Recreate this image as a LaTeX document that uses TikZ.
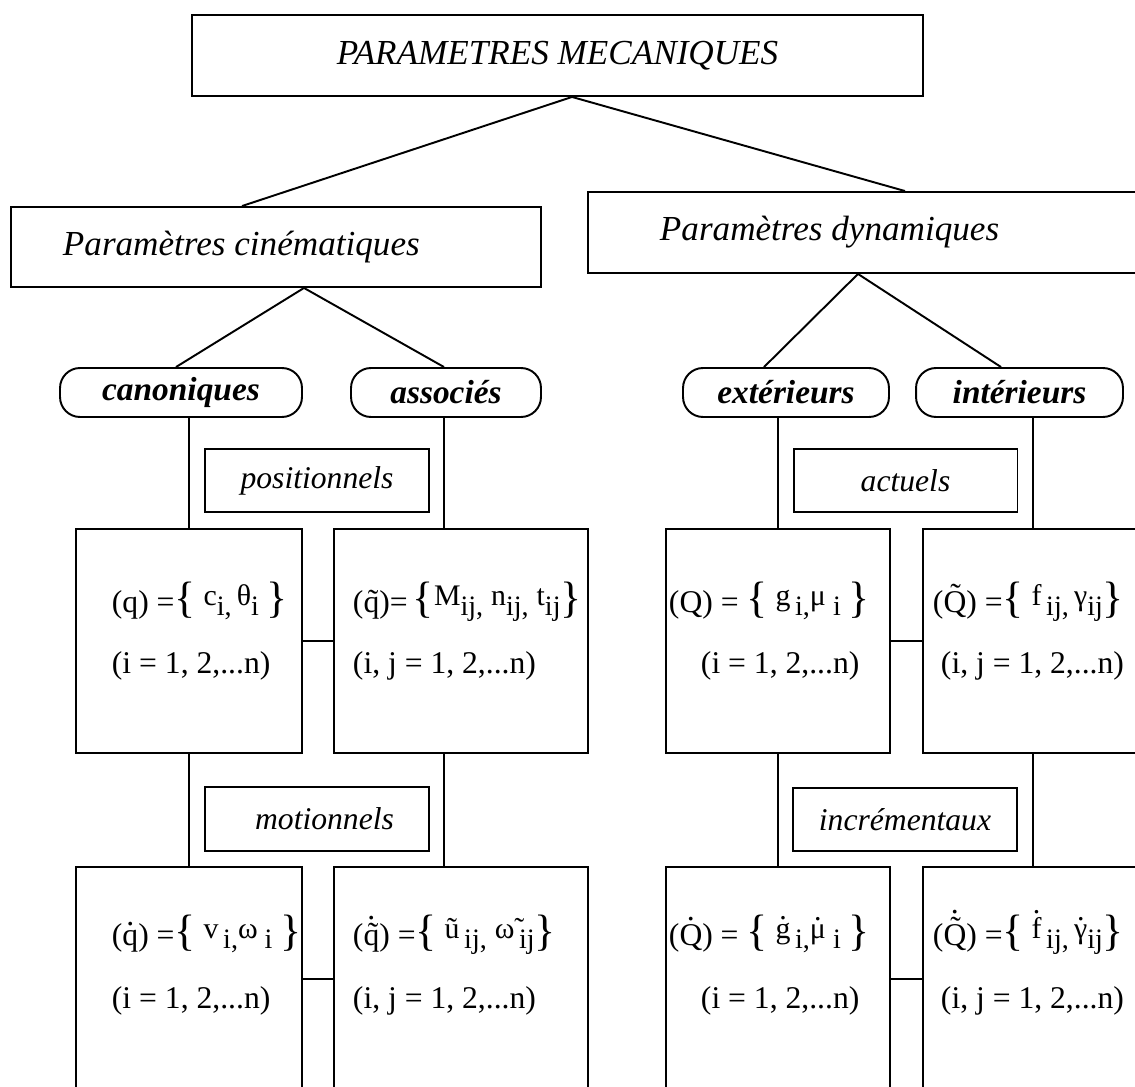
\documentclass[tikz,border=0pt]{standalone}
\usepackage{fontspec}
\setmainfont{Liberation Serif}
\usetikzlibrary{calc}
\newcommand\lbr{{\fontsize{25}{25}\selectfont\{}}
\newcommand\rbr{{\fontsize{25}{25}\selectfont\}}}
\newcommand\hi[1]{\raisebox{0.45ex}{\fontsize{17}{17}\selectfont #1}}
\newcommand\lo[1]{\raisebox{-0.25ex}{\fontsize{16}{16}\selectfont #1}}
\newcommand\ontop[3][2pt]{\leavevmode\vbox{\offinterlineskip\halign{\hfil##\hfil\cr #2\cr\noalign{\kern#1}#3\cr}}}
\begin{document}
\begin{tikzpicture}[x=0.02cm, y=-0.02cm, line width=1.1pt,
  box/.style={draw, rectangle, inner sep=0pt},
  pill/.style={draw, rectangle, rounded corners=0.4cm, inner sep=0pt, minimum height=0.98cm,
    font=\fontsize{19}{19}\selectfont\bfseries\itshape},
  head/.style={inner sep=0pt, font=\fontsize{20}{24}\selectfont\itshape},
  lab/.style={draw, rectangle, inner sep=0pt, minimum width=4.48cm, minimum height=1.27cm,
    font=\fontsize{18}{20}\selectfont\itshape},
  big/.style={draw, rectangle, inner sep=0pt, minimum height=4.48cm},
  frm/.style={anchor=base west, inner sep=0pt, font=\fontsize{18}{20}\selectfont}]
\useasboundingbox (0,0) rectangle (1135,1087);
\clip (0,0) rectangle (1135,1087);
% top level
\node[box, head, minimum width=14.62cm, minimum height=1.62cm] (top) at (557.5,55.5) {PARAMETRES MECANIQUES};
\node[box, minimum width=10.6cm, minimum height=1.6cm] (cin) at (276,247) {};
\node[head, anchor=west] (cint) at (62,247) {Paramètres cinématiques};
\node[box, minimum width=11.24cm, minimum height=1.62cm] (dyn) at (869,232.5) {};
\node[head, anchor=west] (dynt) at (659,232) {Paramètres dynamiques};
% pills
\node[pill, minimum width=4.84cm] (can) at (181,392.5) {canoniques};
\node[pill, minimum width=3.8cm] (ass) at (446,392.5) {associés};
\node[pill, minimum width=4.12cm] (ext) at (786,392.5) {extérieurs};
\node[pill, minimum width=4.14cm] (int) at (1019.5,392.5) {intérieurs};
% label boxes
\node[lab] (pos) at (317,480.5) {positionnels};
\node[lab] (act) at (905.5,480.5) {actuels};
\node[lab] (mot) at (317,819) {\hspace{0.3cm}motionnels};
\node[lab] (inc) at (905,819.5) {incrémentaux};
% main boxes
\node[big, minimum width=4.52cm] (A) at (189,641) {};
\node[big, minimum width=5.08cm] (B) at (461,641) {};
\node[big, minimum width=4.48cm] (C) at (778,641) {};
\node[big, minimum width=5.08cm] (D) at (1050,641) {};
\node[big, minimum width=4.52cm] (A2) at (189,979) {};
\node[big, minimum width=5.08cm] (B2) at (461,979) {};
\node[big, minimum width=4.48cm] (C2) at (778,979) {};
\node[big, minimum width=5.08cm] (D2) at (1050,979) {};
% connectors
\draw ([xshift=-0.68cm]cin.north) -- ([xshift=0.29cm]top.south) -- ([xshift=0.72cm]dyn.north);
\draw ([xshift=-0.1cm]can.north) -- ([xshift=0.56cm]cin.south) -- ([xshift=-0.04cm]ass.north);
\draw ([xshift=-0.44cm]ext.north) -- ([xshift=-0.22cm]dyn.south) -- ([xshift=-0.37cm]int.north);
\draw (A.north) -- (A.north |- can.south);
\draw ([xshift=-0.34cm]B.north) -- ([xshift=-0.34cm]B.north |- ass.south);
\draw (C.north) -- (C.north |- ext.south);
\draw ([xshift=-0.34cm]D.north) -- ([xshift=-0.34cm]D.north |- int.south);
\draw (A.south) -- (A2.north);
\draw ([xshift=-0.34cm]B.south) -- ([xshift=-0.34cm]B2.north);
\draw (C.south) -- (C2.north);
\draw ([xshift=-0.34cm]D.south) -- ([xshift=-0.34cm]D2.north);
\draw (A.east) -- (B.west);
\draw (C.east) -- (D.west);
\draw (A2.east) -- (B2.west);
\draw (C2.east) -- (D2.west);
% formulas row 1
\node[frm] (fa1) at (111,612) {(q) =\lbr\ \hi{c}\lo{i,}\,\hi{θ}\lo{i}\ \rbr};
\node[frm] (fa1b) at (111,673) {(i = 1, 2,...n)};
\node[frm] (fb1) at (352,612) {(\~{q})=\,\lbr\hi{M}\lo{ij,} \hi{n}\lo{ij,}\ \hi{t}\lo{ij}\rbr};
\node[frm] (fb1b) at (352,673) {(i, j = 1, 2,...n)};
\node[frm] (fc1) at (668,612) {(Q) = \lbr\ \hi{g}\lo{\,i,}\hi{μ}\lo{\ i}\ \rbr};
\node[frm] (fc1b) at (700,673) {(i = 1, 2,...n)};
\node[frm] (fd1) at (932,612) {(\~{Q}) =\lbr\ \hi{f}\lo{\,ij,}\,\hi{γ}\lo{ij}\rbr};
\node[frm] (fd1b) at (940,673) {(i, j = 1, 2,...n)};
% formulas row 2
\node[frm] (fa2) at (111,945) {(\ontop{.}{q}) =\lbr\ \hi{v}\lo{\,i,}\hi{ω}\lo{\ i}\ \rbr};
\node[frm] (fa2b) at (111,1008) {(i = 1, 2,...n)};
\node[frm] (fb2) at (352,945) {(\ontop{.}{\~{q}}) =\lbr\ \hi{\~{u}}\lo{\,ij,}\ \hi{\~{ω}}\lo{\,ij}\rbr};
\node[frm] (fb2b) at (352,1008) {(i, j = 1, 2,...n)};
\node[frm] (fc2) at (668,945) {(\ontop{.}{Q}) = \lbr\ \hi{\ontop{.}{g}}\lo{\,i,}\hi{\ontop{.}{μ}}\lo{\ i}\ \rbr};
\node[frm] (fc2b) at (700,1008) {(i = 1, 2,...n)};
\node[frm] (fd2) at (932,945) {(\ontop{.}{\~{Q}}) =\lbr\ \hi{\ontop{.}{f}}\lo{\,ij,}\,\hi{\ontop{.}{γ}}\lo{ij}\rbr};
\node[frm] (fd2b) at (940,1008) {(i, j = 1, 2,...n)};
\end{tikzpicture}
\end{document}
